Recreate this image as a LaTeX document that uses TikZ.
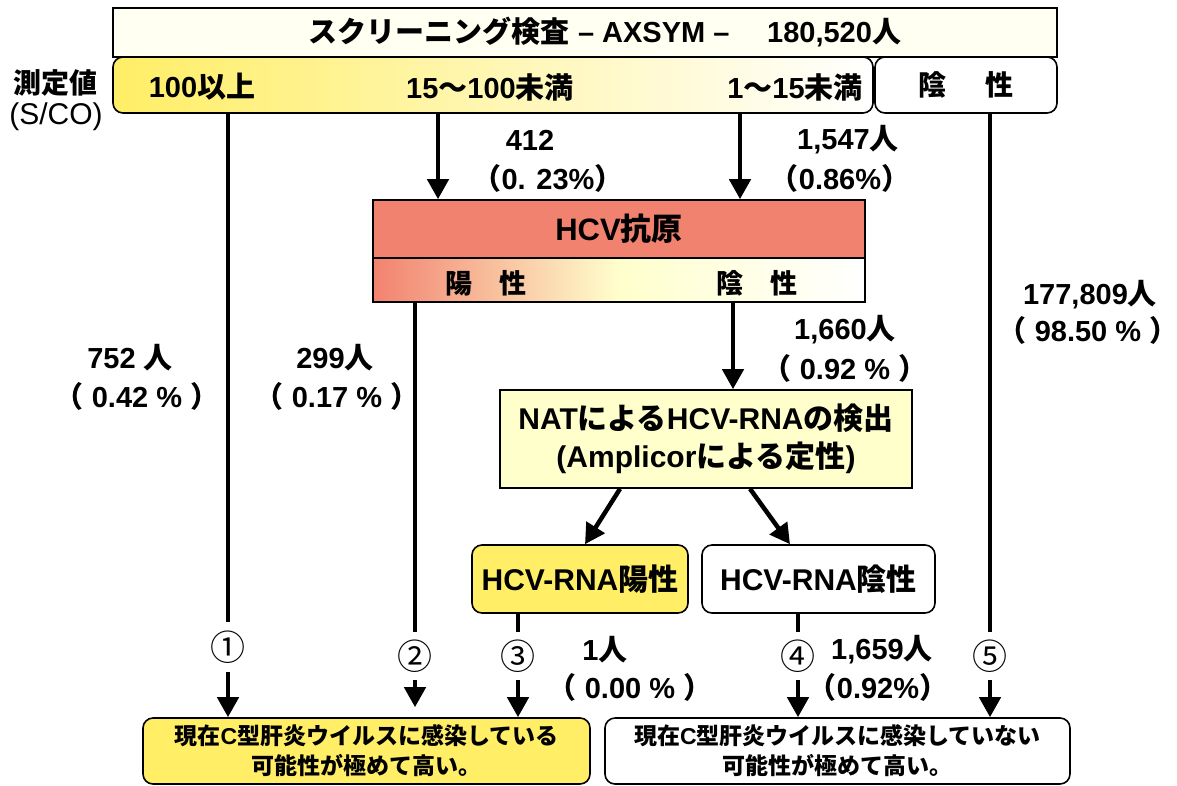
\documentclass[tikz,border=0pt]{standalone}
\usepackage{fontspec}
\setmainfont{Liberation Sans}
\newfontfamily\jp{Noto Sans CJK JP}
\usetikzlibrary{arrows.meta}
\newcommand{\J}[1]{{\jp #1}}
\definecolor{ylw}{RGB}{255,238,102}
\definecolor{lylw}{RGB}{255,255,204}
\definecolor{salmon}{RGB}{242,130,112}
\definecolor{ttl}{RGB}{255,255,242}
\begin{document}
\begin{tikzpicture}[x=1pt,y=-1pt,
  box/.style={draw=black,line width=1.6pt,inner sep=0pt,align=center},
  rbox/.style={box,rounded corners=10pt},
  lbl/.style={inner sep=0pt,align=center,font=\bfseries\fontsize{29}{32}\selectfont},
  cnum/.style={inner sep=0pt,font=\jp\fontsize{35}{36}\selectfont},
  ln/.style={line width=4.5pt},
  arr/.style={line width=4.5pt,-{Triangle[length=20pt,width=21pt]}}
]
\useasboundingbox (0,0) rectangle (1177,785);
\fill[white] (0,0) rectangle (1177,785);
% top
\node[box,fill=ttl,minimum width=944pt,minimum height=49pt,font=\bfseries\fontsize{29}{32}\selectfont] (title) at (585,32.5) {\hspace*{40pt}\J{スクリーニング検査} – AXSYM –\hspace{1.3em}180,520\J{人}};
\node[rbox,left color=ylw,right color=white,minimum width=760pt,minimum height=56pt] (scr) at (493,85) {};
\node[rbox,fill=white,minimum width=182pt,minimum height=56pt,font=\bfseries\jp\fontsize{28}{30}\selectfont] (neg) at (966,85) {陰\hspace{1.4em}性};
\node[lbl] (t100) at (202,87) {100\J{以上}};
\node[lbl] (t15) at (490,87) {15\J{～}100\J{未満}};
\node[lbl] (t1) at (795,87) {1\J{～}15\J{未満}};
\node[lbl,font=\bfseries\jp\fontsize{28}{30}\selectfont] (meas) at (55,83) {測定値};
\node[inner sep=0pt,font=\fontsize{30}{32}\selectfont] (sco) at (56,117) {(S/CO)};
% HCV antigen
\node[box,fill=salmon,minimum width=492pt,minimum height=58pt,font=\bfseries\fontsize{31}{34}\selectfont] (hcvt) at (619,229) {HCV\J{抗原}};
\node[box,left color=salmon,right color=white,middle color=lylw,minimum width=492pt,minimum height=44pt] (hcvb) at (619,280) {};
\node[lbl,font=\bfseries\jp\fontsize{27}{30}\selectfont] (pos1) at (486,283) {陽\hspace{1em}性};
\node[lbl,font=\bfseries\jp\fontsize{27}{30}\selectfont] (neg1) at (757,283) {陰\hspace{1em}性};
% NAT
\node[box,fill=lylw,minimum width=412pt,minimum height=98pt,font=\bfseries\fontsize{30}{38}\selectfont] (nat) at (706,439) {NAT\J{による}HCV-RNA\J{の検出}\\(Amplicor\J{による定性})};
\node[rbox,fill=ylw,minimum width=216pt,minimum height=68pt,font=\bfseries\fontsize{30}{32}\selectfont] (rpos) at (580,579) {HCV-RNA\J{陽性}};
\node[rbox,fill=white,minimum width=233pt,minimum height=68pt,font=\bfseries\fontsize{30}{32}\selectfont] (rneg) at (818.5,579) {HCV-RNA\J{陰性}};
% bottom
\node[rbox,fill=ylw,minimum width=447pt,minimum height=66pt,font=\bfseries\fontsize{23}{30}\selectfont] (bl) at (366.5,751) {\J{現在}C\J{型肝炎ウイルスに感染している}\\\J{可能性が極めて高い。}};
\node[rbox,fill=white,minimum width=465pt,minimum height=66pt,font=\bfseries\fontsize{23}{30}\selectfont] (br) at (837.5,751) {\J{現在}C\J{型肝炎ウイルスに感染していない}\\\J{可能性が極めて高い。}};
% labels
\node[lbl] (l412) at (530,140) {412};
\node[lbl] (p412) at (548,178) {\J{（}0. 23\%\J{）}};
\node[lbl] (l1547) at (848,140) {1,547\J{人}};
\node[lbl] (p1547) at (840,178) {\J{（}0.86\%\J{）}};
\node[lbl] (l177) at (1090,295) {177,809\J{人}};
\node[lbl] (p177) at (1088,330) {\J{（} 98.50 \% \J{）}};
\node[lbl] (l1660) at (845,330) {1,660\J{人}};
\node[lbl] (p1660) at (845,368) {\J{（} 0.92 \% \J{）}};
\node[lbl] (l752) at (130,358) {752 \J{人}};
\node[lbl] (p752) at (137,396) {\J{（} 0.42 \% \J{）}};
\node[lbl] (l299) at (335,358) {299\J{人}};
\node[lbl] (p299) at (337,396) {\J{（} 0.17 \% \J{）}};
\node[lbl] (l1) at (605,650) {1\J{人}};
\node[lbl] (p1) at (630,687) {\J{（} 0.00 \% \J{）}};
\node[lbl] (l1659) at (882,650) {1,659\J{人}};
\node[lbl] (p1659) at (878,687) {\J{（}0.92\%\J{）}};
% circled numbers
\node[cnum,minimum height=50pt] (n1) at (228,647) {①};
\node[cnum,minimum height=48pt] (n2) at (415,656) {②};
\node[cnum,minimum height=48pt] (n3) at (518,656) {③};
\node[cnum,minimum height=48pt] (n4) at (798,656) {④};
\node[cnum,minimum height=48pt] (n5) at (990,656) {⑤};
% x positions
\coordinate (xa) at (438,0);
\coordinate (xb) at (740,0);
\coordinate (xc) at (733,0);
\coordinate (xd) at (620,0);
\coordinate (xe) at (750,0);
\coordinate (ra) at (585,0);
\coordinate (rb) at (790,0);
% connectors
\draw[arr] (scr.south -| xa) -- (hcvt.north -| xa);
\draw[arr] (scr.south -| xb) -- (hcvt.north -| xb);
\draw[arr] (hcvb.south -| xc) -- (nat.north -| xc);
\draw[arr] (nat.south -| xd) -- (rpos.north -| ra);
\draw[arr] (nat.south -| xe) -- (rneg.north -| rb);
\draw[ln] (scr.south -| n1) -- (n1.north);
\draw[arr] (n1.south) -- (bl.north -| n1);
\draw[ln] (hcvb.south -| n2) -- (n2.north);
\draw[arr,shorten >=10pt] (n2.south) -- (bl.north -| n2);
\draw[ln] (rpos.south -| n3) -- (n3.north);
\draw[arr] (n3.south) -- (bl.north -| n3);
\draw[ln] (rneg.south -| n4) -- (n4.north);
\draw[arr] (n4.south) -- (br.north -| n4);
\draw[ln] (neg.south -| n5) -- (n5.north);
\draw[arr] (n5.south) -- (br.north -| n5);
\end{tikzpicture}
\end{document}
